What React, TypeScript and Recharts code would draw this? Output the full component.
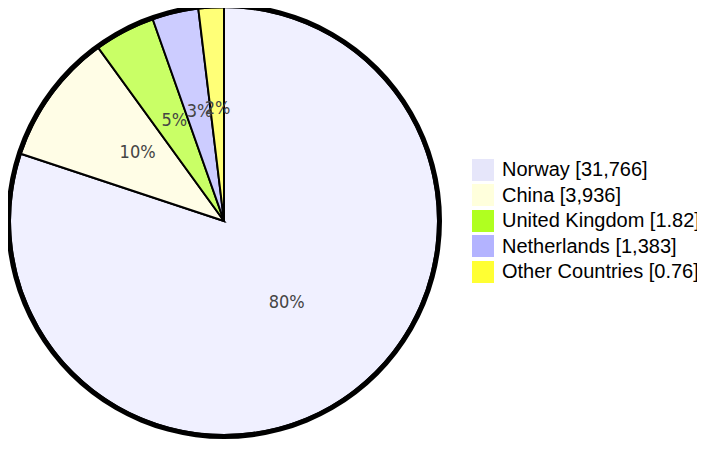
import { PieChart, Pie, Cell, Legend } from "recharts";
import React from "react";

const countries = ["Norway", "China", "United Kingdom", "Netherlands", "Other Countries"];
const amounts = [31766, 3936, 1820, 1383, 760];
const legendValues = ["31,766", "3,936", "1.82", "1,383", "0.76"];
const sliceColors = ["#f0f0ff", "#fffde6", "#c9ff66", "#ccccff", "#ffff77"];
const legendColors = ["#e6e6fa", "#ffffdc", "#b0ff20", "#b3b3ff", "#ffff33"];

const data = countries.map((name, i) => ({ name, value: amounts[i] }));
const ring = [{ name: "ring", value: 1 }];

const RAD = Math.PI / 180;

// percentage label in the middle of each slice
const renderLabel = (props: any) => {
  const { cx, cy, midAngle, outerRadius, percent } = props;
  const r = outerRadius * 0.5;
  const x = cx + r * Math.cos(-midAngle * RAD);
  const y = cy + r * Math.sin(-midAngle * RAD);
  return (
    <text
      x={x}
      y={y}
      textAnchor="middle"
      fill="#444"
      fontSize={18}
      fontFamily="'DejaVu Sans Condensed', 'DejaVu Sans', sans-serif"
      style={{ fontStretch: "condensed" }}
    >
      {`${Math.round(percent * 100)}%`}
    </text>
  );
};

const LegendBox = () => (
  <div style={{ fontFamily: "'Liberation Sans', Arial, sans-serif", fontSize: 20, color: "#000" }}>
    {countries.map((c, i) => (
      <div key={c} style={{ display: "flex", alignItems: "center", height: 25.5, whiteSpace: "nowrap" }}>
        <span
          style={{
            display: "inline-block",
            width: 22,
            height: 22,
            background: legendColors[i],
            marginRight: 8,
            flexShrink: 0,
          }}
        />
        <span>{`${c} [${legendValues[i]}]`}</span>
      </div>
    ))}
  </div>
);

export default function App() {
  return (
    <PieChart width={697} height={441}>
      <Pie
        data={data}
        dataKey="value"
        nameKey="name"
        cx={211}
        cy={208}
        outerRadius={214}
        startAngle={90}
        endAngle={-270}
        stroke="#000"
        strokeWidth={2}
        label={renderLabel}
        labelLine={false}
        isAnimationActive={false}
      >
        {data.map((entry, i) => (
          <Cell key={`cell-${entry.name}`} fill={sliceColors[i]} />
        ))}
      </Pie>
      <Pie
        data={ring}
        dataKey="value"
        cx={211}
        cy={208}
        innerRadius={213}
        outerRadius={218}
        startAngle={90}
        endAngle={-270}
        fill="#000"
        stroke="none"
        isAnimationActive={false}
      />
      <Legend
        content={<LegendBox />}
        wrapperStyle={{ position: "absolute", left: 464, top: 149, width: 233 }}
      />
    </PieChart>
  );
}
